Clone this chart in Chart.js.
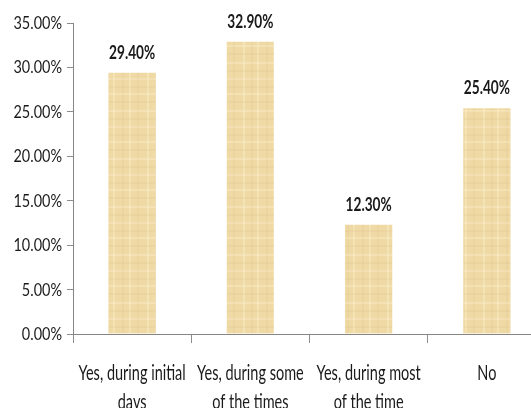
<!DOCTYPE html>
<html>
<head>
<meta charset="utf-8">
<script src="https://cdn.jsdelivr.net/npm/chart.js@4/dist/chart.umd.min.js"></script>
<style>
  html, body { margin: 0; padding: 0; background: #fff; overflow: hidden; }
  #wrap { width: 531px; height: 408px; overflow: hidden; position: relative; }
  #box { width: 546px; height: 408px; position: absolute; left: 0; top: 0; }
</style>
</head>
<body>
<div id="wrap"><div id="box"><canvas id="c"></canvas></div></div>
<script>
// Survey answers and their shares
const categories = [
  ["Yes, during initial", "days"],
  ["Yes, during some", "of the times"],
  ["Yes, during most", "of the time"],
  ["No"]
];
const shares = [0.294, 0.329, 0.123, 0.254];
const yTicks = [0, 0.05, 0.10, 0.15, 0.20, 0.25, 0.30, 0.35];

const FONT = "Lato, 'Open Sans', sans-serif";
const INK = '#1a1a1a';

// Papyrus-like fill for the bars
function papyrus() {
  const p = document.createElement('canvas');
  p.width = 48; p.height = 48;
  const g = p.getContext('2d');
  g.fillStyle = '#efd9a5';
  g.fillRect(0, 0, 48, 48);
  const vs = [[3, 'rgba(255,245,215,0.35)'], [11, 'rgba(215,190,130,0.18)'], [17, 'rgba(255,245,215,0.3)'],
              [26, 'rgba(215,190,130,0.15)'], [33, 'rgba(255,245,215,0.3)'], [41, 'rgba(215,190,130,0.18)']];
  vs.forEach(([x, c]) => { g.fillStyle = c; g.fillRect(x, 0, 2, 48); });
  const hs = [[5, 'rgba(215,190,130,0.15)'], [14, 'rgba(255,245,215,0.3)'], [22, 'rgba(215,190,130,0.18)'],
              [30, 'rgba(255,245,215,0.25)'], [38, 'rgba(215,190,130,0.15)'], [45, 'rgba(255,245,215,0.3)']];
  hs.forEach(([y, c]) => { g.fillStyle = c; g.fillRect(0, y, 48, 2); });
  return g.createPattern(p, 'repeat');
}

// Draws narrow (horizontally condensed) text
function narrowText(ctx, text, x, y, sx, align) {
  ctx.save();
  ctx.translate(x, y);
  ctx.scale(sx, 1);
  ctx.textAlign = align;
  ctx.fillText(text, 0, 0);
  ctx.restore();
}

const labelsPlugin = {
  id: 'narrowLabels',
  afterDraw(chart) {
    const ctx = chart.ctx;
    const xs = chart.scales.x, ys = chart.scales.y;
    ctx.save();
    ctx.fillStyle = INK;
    ctx.textBaseline = 'alphabetic';

    // y-axis tick labels
    ctx.font = "17px " + FONT;
    ys.ticks.forEach(t => {
      const y = ys.getPixelForValue(t.value);
      narrowText(ctx, (t.value * 100).toFixed(2) + '%', ys.right - 11, y + 6, 0.85, 'right');
    });

    // x-axis category labels
    ctx.font = "21px " + FONT;
    chart.data.labels.forEach((lab, i) => {
      const x = xs.getPixelForValue(i);
      lab.forEach((line, k) => {
        narrowText(ctx, line, x, xs.top + 46 + k * 29, 0.69, 'center');
      });
    });

    // value labels above the bars
    ctx.font = "bold 19px " + FONT;
    const meta = chart.getDatasetMeta(0);
    meta.data.forEach((bar, i) => {
      const v = chart.data.datasets[0].data[i];
      narrowText(ctx, (v * 100).toFixed(2) + '%', bar.x, bar.y - 14, 0.72, 'center');
    });
    ctx.restore();
  }
};

new Chart(document.getElementById('c'), {
  type: 'bar',
  data: {
    labels: categories,
    datasets: [{
      data: shares,
      backgroundColor: papyrus(),
      borderWidth: 0,
      barPercentage: 0.4,
      categoryPercentage: 1.0
    }]
  },
  options: {
    responsive: true,
    maintainAspectRatio: false,
    animation: false,
    layout: { padding: { top: 23, right: 0, left: 0, bottom: 0 } },
    plugins: { legend: { display: false }, tooltip: { enabled: false } },
    scales: {
      x: {
        grid: { display: true, drawOnChartArea: false, offset: true, color: '#8c8c8c', tickLength: 9, lineWidth: 1 },
        border: { display: true, color: '#868686', width: 1 },
        ticks: { display: false },
        afterFit(s) { s.height = 74; }
      },
      y: {
        min: 0, max: 0.35,
        afterBuildTicks(s) { s.ticks = yTicks.map(v => ({ value: v })); },
        grid: { display: true, drawOnChartArea: false, color: '#8c8c8c', tickLength: 6 },
        border: { display: true, color: '#868686', width: 1 },
        ticks: { display: false },
        afterFit(s) { s.width = 73; }
      }
    }
  },
  plugins: [labelsPlugin]
});
</script>
</body>
</html>
